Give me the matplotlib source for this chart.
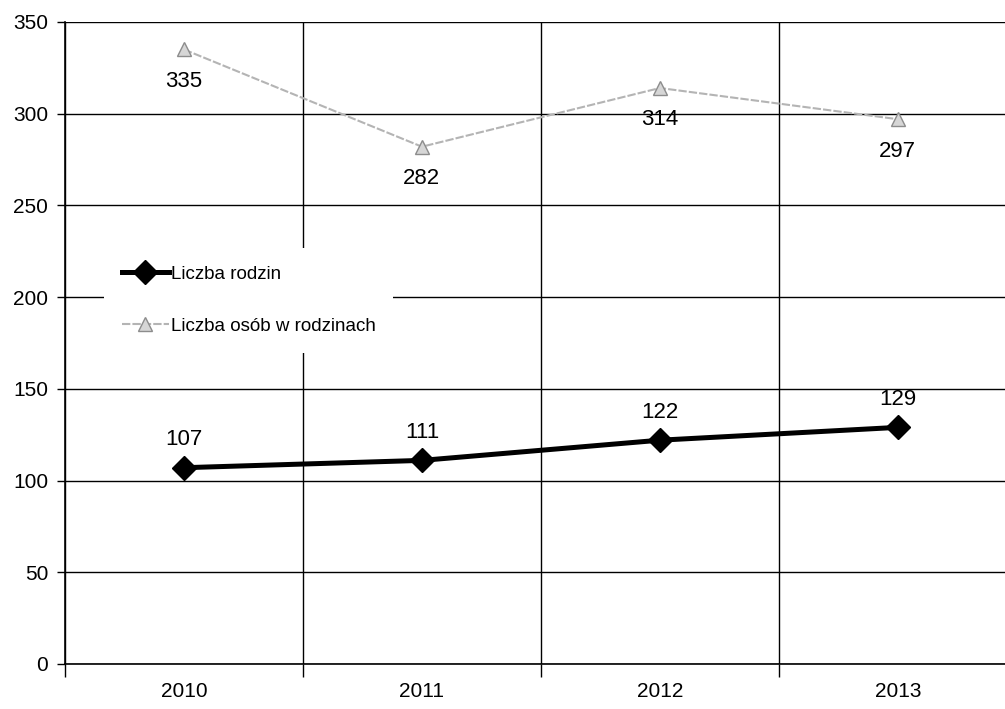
"""
Line chart with the number of families and the number of persons in families
(2010-2013), recreated with matplotlib and saved to out.png
"""
#%% Import libraries ###########################################################
import numpy as np
import matplotlib
matplotlib.use('Agg')
import matplotlib.pyplot as plt
from matplotlib.ticker import FixedLocator

#%% Data #######################################################################
years = ['2010', '2011', '2012', '2013']
families = [107, 111, 122, 129]
persons = [335, 282, 314, 297]
y_ticks = [0, 50, 100, 150, 200, 250, 300, 350]
label_families = 'Liczba rodzin'
label_persons = 'Liczba osób w rodzinach'

plt.rcParams['font.family'] = ['Liberation Sans', 'DejaVu Sans']

#%% Main #######################################################################
def main():
    """
    Main function
    """
    x = np.arange(len(years))

    fig = plt.figure(figsize=(10.05, 7.09), dpi=100)
    ax = fig.add_axes([0.0647, 0.0635, 0.947, 0.9055])

    # Series
    ax.plot(x, persons, color='#b4b4b4', linewidth=1.5, linestyle=(0, (4, 1)),
            marker='^', markersize=10, markerfacecolor='#d6d6d6',
            markeredgecolor='#8c8c8c', markeredgewidth=1.0,
            label=label_persons, zorder=3)
    ax.plot(x, families, color='k', linewidth=3.6, marker='D',
            markersize=12, label=label_families, zorder=4)

    # Data labels
    for xi, v in zip(x, families):
        ax.annotate(str(v), (xi, v), xytext=(0, 20), textcoords='offset points',
                    ha='center', va='center', fontsize=16)
    for xi, v in zip(x, persons):
        ax.annotate(str(v), (xi, v), xytext=(0, -23), textcoords='offset points',
                    ha='center', va='center', fontsize=16)

    # Axes
    ax.set_xlim(-0.5, 3.5)
    ax.set_ylim(0, 350)
    ax.set_yticks(y_ticks)
    ax.set_xticks(x)
    ax.set_xticklabels(years)
    ax.xaxis.set_minor_locator(FixedLocator(np.arange(len(years) + 1) - 0.5))
    ax.tick_params(axis='x', which='major', length=0, pad=13, labelsize=15)
    ax.tick_params(axis='x', which='minor', length=9, width=1.0, color='k')
    ax.tick_params(axis='y', length=6, width=1.0, pad=6, labelsize=15)

    ax.grid(axis='y', color='k', linewidth=1.0, zorder=1)
    ax.grid(axis='x', which='minor', color='k', linewidth=1.0, zorder=1)
    ax.set_axisbelow(True)
    for side in ['top', 'right']:
        ax.spines[side].set_visible(False)
    for side in ['left', 'bottom']:
        ax.spines[side].set_linewidth(1.2)

    # Legend (families first), white box hiding the grid behind it
    handles, labels = ax.get_legend_handles_labels()
    leg = ax.legend(handles[::-1], labels[::-1], loc='upper left',
                    bbox_to_anchor=(0.041, 0.648), borderaxespad=0,
                    fontsize=13.5, frameon=True, facecolor='white',
                    edgecolor='none', framealpha=1, fancybox=False,
                    handlelength=2.5, handletextpad=0.1,
                    labelspacing=1.85, borderpad=0.95)
    leg.set_zorder(5)

    fig.savefig('out.png', dpi=100)

#%% Run main ###################################################################
if __name__ == '__main__':
    main()
